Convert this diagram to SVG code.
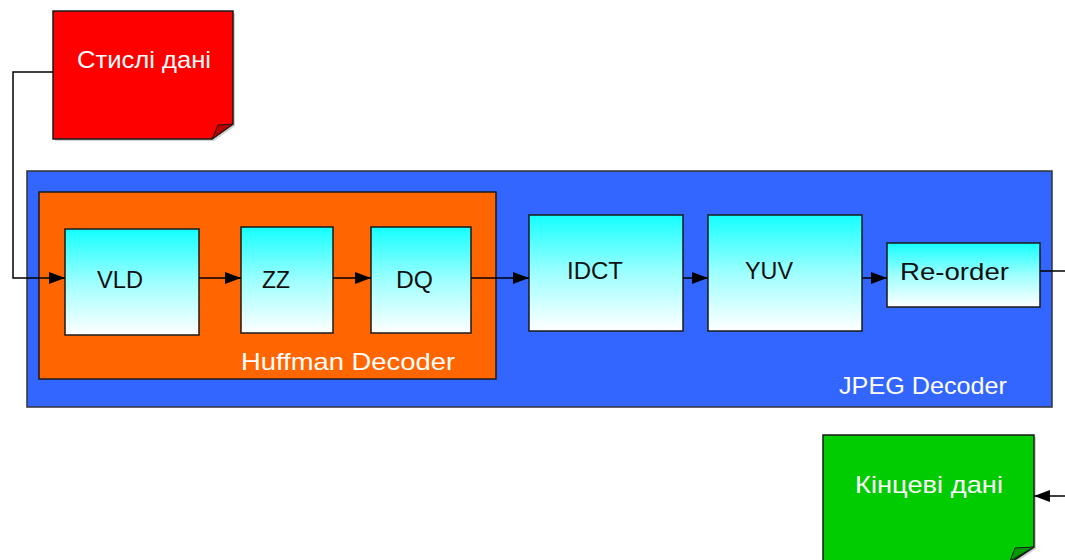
<svg xmlns="http://www.w3.org/2000/svg" width="1065" height="560" viewBox="0 0 1065 560">
  <defs>
    <linearGradient id="cyanFill" x1="0" y1="0" x2="0" y2="1">
      <stop offset="0" stop-color="#14FFFF"/>
      <stop offset="0.5" stop-color="#9EFFFF"/>
      <stop offset="1" stop-color="#FFFFFF"/>
    </linearGradient>
    <marker id="arrow" markerUnits="userSpaceOnUse" markerWidth="16" markerHeight="12" refX="16" refY="6" orient="auto">
      <path d="M0,0 L16,6 L0,12 Z" fill="#000"/>
    </marker>
  </defs>
  <style>
    .block { fill: url(#cyanFill); stroke: #1a1a1a; stroke-width: 1.5; }
    .frame { stroke: #1a1a1a; stroke-width: 1.5; }
    .label { font-family: "Liberation Sans", Arial, sans-serif; font-size: 24px; fill: #111; }
    .white { font-family: "Liberation Sans", Arial, sans-serif; font-size: 24px; fill: #fff; }
    .wire { fill: none; stroke: #000; stroke-width: 1.5; }
    .shadow { fill: #000; opacity: 0.18; }
  </style>

  <rect width="1065" height="560" fill="#fff"/>

  <!-- compressed input note -->
  <g id="compressed-data">
    <polygon class="shadow" points="55,13 235,13 235,126 214,141 55,141"/>
    <polygon points="53,11 233,11 233,124 212,139 53,139" fill="#FF0000" class="frame"/>
    <polygon points="212,139 218,125 233,124" fill="#B80000" stroke="#1a1a1a" stroke-width="1"/>
    <text class="white" x="77" y="68" textLength="134" lengthAdjust="spacingAndGlyphs">Стислі дані</text>
  </g>

  <!-- decoder container -->
  <g id="jpeg-decoder">
    <rect x="27" y="171" width="1025" height="236" fill="#3366FF" stroke="#333" stroke-width="1.5"/>
    <text class="white" x="839" y="394" textLength="168" lengthAdjust="spacingAndGlyphs">JPEG Decoder</text>
  </g>

  <g id="huffman-decoder">
    <rect x="39" y="192" width="457" height="187" fill="#FF6600" class="frame"/>
    <text class="white" x="241" y="370" textLength="214" lengthAdjust="spacingAndGlyphs">Huffman Decoder</text>
  </g>

  <g id="vld">
    <rect class="block" x="65" y="229" width="134" height="106"/>
    <text class="label" x="97" y="288" textLength="46" lengthAdjust="spacingAndGlyphs">VLD</text>
  </g>

  <g id="zz">
    <rect class="block" x="241" y="227" width="92" height="106"/>
    <text class="label" x="262" y="288" textLength="28" lengthAdjust="spacingAndGlyphs">ZZ</text>
  </g>

  <g id="dq">
    <rect class="block" x="371" y="227" width="100" height="106"/>
    <text class="label" x="396" y="288" textLength="37" lengthAdjust="spacingAndGlyphs">DQ</text>
  </g>

  <g id="idct">
    <rect class="block" x="529" y="215" width="154" height="116"/>
    <text class="label" x="567" y="279" textLength="56" lengthAdjust="spacingAndGlyphs">IDCT</text>
  </g>

  <g id="yuv">
    <rect class="block" x="708" y="215" width="154" height="116"/>
    <text class="label" x="745" y="279" textLength="48" lengthAdjust="spacingAndGlyphs">YUV</text>
  </g>

  <g id="re-order">
    <rect class="block" x="887" y="243" width="153" height="64"/>
    <text class="label" x="900" y="280" textLength="109" lengthAdjust="spacingAndGlyphs">Re-order</text>
  </g>

  <!-- decoded output note -->
  <g id="final-data">
    <polygon class="shadow" points="825,437 1036,437 1036,549 1012,565 825,565"/>
    <polygon points="823,435 1034,435 1034,547 1010,563 823,563" fill="#00CC00" class="frame"/>
    <polygon points="1010,561 1015,548 1034,547" fill="#009900" stroke="#1a1a1a" stroke-width="1"/>
    <text class="white" x="855" y="493" textLength="148" lengthAdjust="spacingAndGlyphs">Кінцеві дані</text>
  </g>

  <!-- data flow -->
  <g id="connectors">
    <polyline class="wire" points="53,72 13,72 13,278 65,278" marker-end="url(#arrow)"/>
    <line class="wire" x1="199" y1="278" x2="241" y2="278" marker-end="url(#arrow)"/>
    <line class="wire" x1="333" y1="278" x2="371" y2="278" marker-end="url(#arrow)"/>
    <line class="wire" x1="471" y1="278" x2="529" y2="278" marker-end="url(#arrow)"/>
    <line class="wire" x1="683" y1="278" x2="708" y2="278" marker-end="url(#arrow)"/>
    <line class="wire" x1="862" y1="278" x2="887" y2="278" marker-end="url(#arrow)"/>
    <line class="wire" x1="1040" y1="271" x2="1065" y2="271"/>
    <line class="wire" x1="1065" y1="496" x2="1034" y2="496" marker-end="url(#arrow)"/>
  </g>
</svg>
